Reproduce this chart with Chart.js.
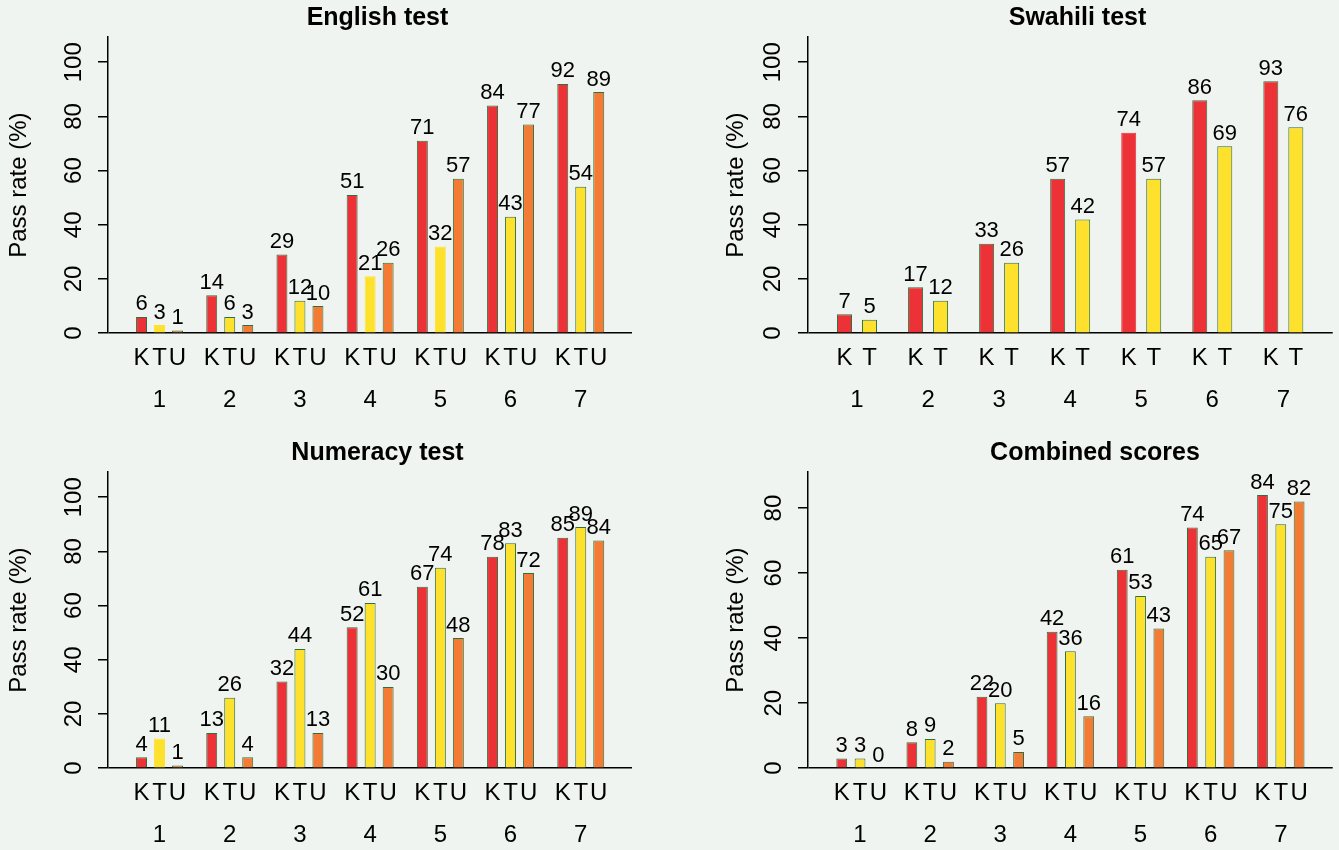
<!DOCTYPE html>
<html>
<head>
<meta charset="utf-8">
<script src="https://cdn.jsdelivr.net/npm/chart.js@4.4.1/dist/chart.umd.min.js"></script>
<style>
  html, body { margin: 0; padding: 0; }
  body { position: relative; width: 1339px; height: 850px; overflow: hidden; background: #f0f4f0; }
  canvas { position: absolute; }
</style>
</head>
<body>
<canvas id="english" width="755" height="468" style="left:0;top:0"></canvas>
<canvas id="swahili" width="755" height="468" style="left:700px;top:0"></canvas>
<canvas id="numeracy" width="755" height="468" style="left:0;top:435px"></canvas>
<canvas id="combined" width="790" height="468" style="left:700px;top:435px"></canvas>
<script>
Chart.defaults.font.family = "'Liberation Sans', Arial, sans-serif";
Chart.defaults.color = '#000';

// grade groups and the school types under each bar
const groups = ['1', '2', '3', '4', '5', '6', '7'];
const letters = ['K', 'T', 'U'];

const englishK = [6, 14, 29, 51, 71, 84, 92];
const englishT = [3, 6, 12, 21, 32, 43, 54];
const englishU = [1, 3, 10, 26, 57, 77, 89];

const swahiliK = [7, 17, 33, 57, 74, 86, 93];
const swahiliT = [5, 12, 26, 42, 57, 69, 76];

const numeracyK = [4, 13, 32, 52, 67, 78, 85];
const numeracyT = [11, 26, 44, 61, 74, 83, 89];
const numeracyU = [1, 4, 13, 30, 48, 72, 84];

const combinedK = [3, 8, 22, 42, 61, 74, 84];
const combinedT = [3, 9, 20, 36, 53, 65, 75];
const combinedU = [0, 2, 5, 16, 43, 67, 82];

const colors = ['#ec3237', '#fde12d', '#f47b33'];
const edge = '#2f7040';

// value above each bar and the K/T/U letter under it
const barLetters = {
  id: 'barLetters',
  afterDatasetsDraw(chart) {
    const ctx = chart.ctx;
    const bottom = chart.chartArea.bottom;
    ctx.save();
    ctx.fillStyle = '#000';
    ctx.textAlign = 'center';
    chart.data.datasets.forEach((ds, i) => {
      chart.getDatasetMeta(i).data.forEach((bar, j) => {
        ctx.font = "22px 'Liberation Sans', Arial, sans-serif";
        ctx.textBaseline = 'alphabetic';
        ctx.fillText(String(Math.round(ds.data[j])), bar.x, bar.y - 6.5);
        ctx.font = "24px 'Liberation Sans', Arial, sans-serif";
        ctx.textBaseline = 'middle';
        ctx.fillText(ds.label, bar.x, bottom + 25);
      });
    });
    ctx.restore();
  }
};

function makePanel(id, title, series, o) {
  return new Chart(document.getElementById(id), {
    type: 'bar',
    data: {
      labels: groups,
      datasets: series.map((vals, i) => ({
        label: letters[i],
        data: vals,
        backgroundColor: colors[i],
        borderColor: vals.map((v, j) => o.bare[i].includes(j) ? colors[i] : edge),
        borderWidth: 1,
        categoryPercentage: o.cat,
        barPercentage: o.bar
      }))
    },
    options: {
      responsive: false,
      animation: false,
      layout: { padding: 0 },
      plugins: {
        legend: { display: false },
        tooltip: { enabled: false },
        title: {
          display: true, text: title, color: '#000',
          font: { size: 25, weight: 'bold' },
          padding: { top: 3, bottom: 4 }
        }
      },
      scales: {
        x: {
          type: 'linear', offset: false, min: o.xMin, max: o.xMax,
          border: { display: false },
          grid: { display: false, offset: false, drawTicks: false, tickLength: 0 },
          ticks: {
            stepSize: 1, includeBounds: false, autoSkip: false, maxRotation: 0,
            padding: 53, font: { size: 24 },
            callback: v => groups[v - 1]
          }
        },
        y: {
          min: 0, max: o.yMax,
          afterFit: s => { s.width = 108; },
          border: { display: true, color: '#000', width: 1.5 },
          grid: {
            color: c => (c.tick && c.tick.value === 0) ? '#000' : 'rgba(0,0,0,0)',
            lineWidth: 1.5, tickColor: '#000', tickWidth: 1.5, tickLength: 10
          },
          ticks: {
            stepSize: 20, includeBounds: false, autoSkip: false,
            minRotation: 90, maxRotation: 90, crossAlign: 'center',
            padding: o.tickPad, font: { size: 24 }
          },
          title: {
            display: true, text: 'Pass rate (%)', font: { size: 24 },
            padding: { top: o.titlePad, bottom: 0 }
          }
        },
        spare: {
          axis: 'y', position: 'right', display: true,
          afterFit: s => { s.width = o.spare; },
          ticks: { display: false }, grid: { display: false }, border: { display: false }
        }
      }
    },
    plugins: [barLetters]
  });
}

makePanel('english', 'English test', [englishK, englishT, englishU], {
  xMin: 0.266, xMax: 7.73, yMax: 109.3, cat: 0.769, bar: 0.61,
  tickPad: 4, titlePad: 5, spare: 123, bare: [[], [0, 3, 4], []]
});
makePanel('swahili', 'Swahili test', [swahiliK, swahiliT], {
  xMin: 0.31, xMax: 7.695, yMax: 109.3, cat: 0.704, bar: 0.6,
  tickPad: 5, titlePad: 22, spare: 122.3, bare: [[4], []]
});
makePanel('numeracy', 'Numeracy test', [numeracyK, numeracyT, numeracyU], {
  xMin: 0.266, xMax: 7.73, yMax: 109.3, cat: 0.769, bar: 0.61,
  tickPad: 4, titlePad: 5, spare: 123, bare: [[], [0], []]
});
makePanel('combined', 'Combined scores', [combinedK, combinedT, combinedU], {
  xMin: 0.258, xMax: 7.74, yMax: 91.1, cat: 0.783, bar: 0.59,
  tickPad: 10, titlePad: 22, spare: 157.3, bare: [[], [], []]
});
</script>
</body>
</html>
